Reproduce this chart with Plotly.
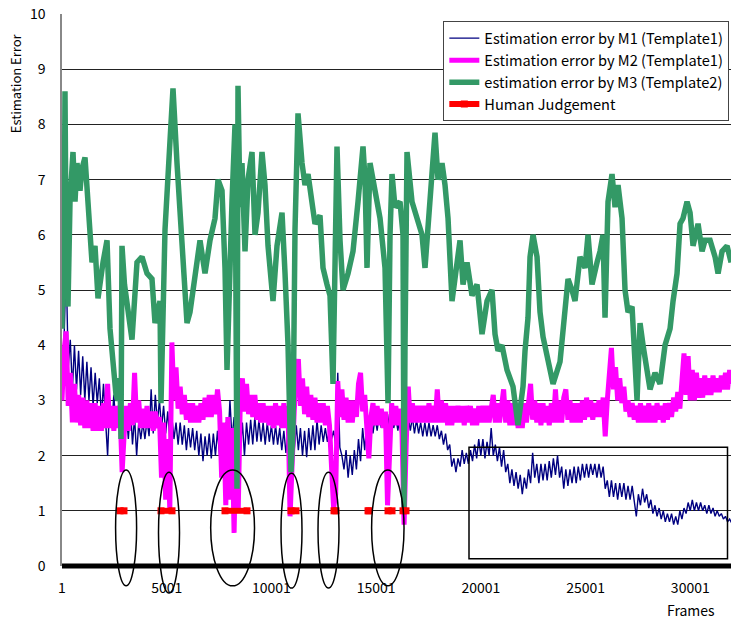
import plotly.graph_objects as go

# ---------------- data ----------------
FRAME_STEP = 99  # sampling step of the frame index for M1/M2 series

M1_VALUES = [
    3.2, 4.1, 5.5, 3.6, 4.1, 3.2, 4.0, 3.2, 3.9, 3.1, 3.8, 3.0, 3.7, 3.0, 3.6, 2.9, 3.5, 2.95, 3.4, 2.7,
    3.3, 2.6, 2.0, 3.0, 2.5, 3.1, 2.5, 2.9, 2.3, 2.7, 2.2, 2.8, 2.3, 2.9, 2.2, 2.7, 2.0, 2.6, 2.3, 2.6,
    2.3, 2.65, 2.35, 3.2, 2.4, 3.1, 2.6, 3.0, 2.5, 2.9, 2.4, 2.8, 2.3, 2.7, 2.3, 2.6, 2.2, 2.6, 2.2, 2.55,
    2.1, 2.5, 2.15, 2.5, 2.1, 2.45, 2.0, 2.4, 1.9, 2.35, 2.0, 2.4, 1.95, 2.4, 2.0, 2.45, 2.0, 2.5, 2.1, 2.6,
    2.2, 3.0, 2.3, 2.7, 2.2, 2.6, 2.1, 2.6, 2.0, 2.6, 2.2, 2.65, 2.2, 2.7, 2.25, 2.65, 2.25, 2.6, 2.2, 2.6,
    2.25, 2.55, 2.2, 2.55, 2.2, 2.5, 2.1, 2.45, 2.05, 2.4, 2.1, 2.4, 2.1, 2.55, 2.1, 2.5, 2.0, 2.45, 1.97, 2.5,
    2.1, 2.55, 2.1, 2.65, 2.2, 2.55, 2.25, 2.5, 2.25, 2.5, 2.3, 2.45, 2.2, 3.5, 2.15, 2.0, 1.75, 2.1, 1.6, 2.0,
    1.65, 2.1, 1.75, 2.3, 1.9, 2.5, 2.1, 2.6, 2.35, 2.7, 2.4, 2.7, 2.45, 2.75, 2.5, 2.75, 2.5, 2.75, 2.5, 2.75,
    2.5, 2.7, 2.45, 2.75, 2.5, 2.7, 2.45, 2.7, 2.45, 2.7, 2.4, 2.65, 2.4, 2.6, 2.35, 2.6, 2.35, 2.6, 2.35, 2.55,
    2.35, 2.55, 2.3, 2.45, 2.2, 2.4, 2.1, 2.2, 1.8, 1.95, 1.7, 1.95, 1.8, 2.1, 1.85, 2.05, 1.85, 2.1, 1.9, 2.2,
    1.95, 2.3, 2.0, 2.3, 1.95, 2.25, 2.0, 2.5, 2.0, 2.2, 1.9, 2.15, 1.8, 2.1, 1.7, 1.85, 1.5, 1.75, 1.45, 1.7,
    1.4, 1.65, 1.3, 1.6, 1.4, 1.75, 1.5, 2.05, 1.6, 1.85, 1.5, 1.85, 1.55, 1.85, 1.55, 1.9, 1.6, 1.95, 1.65, 2.0,
    1.6, 1.8, 1.4, 1.75, 1.45, 1.75, 1.5, 1.8, 1.5, 1.8, 1.55, 1.85, 1.6, 1.85, 1.6, 1.85, 1.65, 1.85, 1.6, 1.85,
    1.6, 1.8, 1.4, 1.55, 1.25, 1.55, 1.25, 1.5, 1.2, 1.5, 1.25, 1.5, 1.2, 1.45, 1.2, 1.45, 1.15, 0.9, 1.3, 1.1,
    1.4, 1.15, 1.3, 1.05, 1.2, 0.95, 1.1, 0.9, 1.05, 0.85, 1.0, 0.8, 0.95, 0.8, 0.95, 0.75, 0.9, 0.75, 1.0, 0.85,
    1.05, 0.95, 1.15, 1.0, 1.2, 1.0, 1.15, 1.0, 1.15, 1.0, 1.1, 0.95, 1.1, 0.95, 1.05, 0.9, 1.0, 0.9, 0.95, 0.85,
    0.9, 0.8, 0.85, 0.78,
]

M2_VALUES = [
    3.0, 3.9, 4.25, 2.9, 3.5, 2.6, 3.3, 2.6, 3.1, 2.55, 3.05, 2.5, 3.0, 2.5, 2.95, 2.45, 2.95, 2.45, 2.9, 2.45,
    2.95, 2.5, 3.3, 2.5, 2.9, 2.45, 2.9, 2.5, 2.8, 1.7, 2.4, 2.9, 2.45, 2.95, 2.55, 3.5, 2.6, 3.0, 2.5, 2.85,
    2.5, 2.9, 2.5, 2.8, 2.45, 2.8, 2.5, 2.7, 1.6, 2.6, 1.2, 2.3, 1.0, 4.05, 3.0, 3.6, 2.85, 3.25, 2.75, 3.1,
    2.65, 2.95, 2.6, 2.95, 2.6, 2.9, 2.6, 2.95, 2.65, 3.05, 2.7, 3.1, 2.7, 3.1, 2.75, 3.2, 2.8, 1.6, 2.6, 1.1,
    2.7, 1.2, 2.5, 0.6, 2.4, 1.0, 3.0, 3.4, 2.8, 3.3, 2.75, 3.1, 2.7, 3.1, 2.65, 2.95, 2.6, 2.95, 2.6, 2.9,
    2.55, 2.9, 2.5, 2.95, 2.55, 2.9, 2.5, 2.95, 2.5, 2.9, 0.9, 2.0, 2.8, 3.5, 3.75, 2.9, 3.4, 2.75, 3.25, 2.7,
    3.1, 2.65, 3.05, 2.6, 2.95, 2.6, 2.95, 2.55, 2.9, 2.55, 1.8, 1.05, 1.3, 3.35, 2.7, 3.2, 2.65, 3.05, 2.6, 3.0,
    2.6, 3.0, 2.7, 3.3, 3.5, 2.8, 3.1, 2.6, 1.95, 2.7, 2.95, 2.55, 2.9, 2.55, 2.85, 2.5, 2.8, 1.1, 2.4, 2.95,
    2.55, 2.9, 2.55, 2.85, 2.4, 0.75, 2.2, 3.25, 2.6, 2.95, 2.6, 2.9, 2.6, 2.9, 2.6, 2.9, 2.6, 2.95, 2.6, 2.9,
    2.6, 3.2, 2.6, 3.0, 2.6, 2.95, 2.55, 2.9, 2.55, 2.9, 2.6, 2.9, 2.6, 2.9, 2.55, 2.9, 2.6, 2.9, 2.55, 2.85,
    2.55, 2.9, 2.6, 2.9, 2.6, 2.9, 2.6, 2.95, 3.1, 2.6, 2.95, 2.6, 3.0, 3.2, 2.6, 3.0, 2.55, 2.95, 2.55, 2.9,
    2.5, 2.85, 2.5, 2.95, 2.6, 3.0, 3.3, 2.65, 3.0, 2.6, 2.95, 2.55, 2.95, 2.6, 2.9, 2.55, 2.95, 2.6, 3.2, 2.6,
    3.0, 2.6, 3.05, 3.2, 2.65, 3.0, 2.6, 2.95, 2.6, 2.95, 2.6, 3.0, 2.65, 3.05, 2.7, 3.0, 2.65, 2.95, 2.7, 3.0,
    2.7, 3.05, 2.35, 3.0, 3.5, 3.95, 3.2, 3.6, 3.0, 3.4, 2.95, 3.25, 2.8, 3.0, 2.7, 2.95, 2.65, 2.9, 2.6, 2.95,
    2.6, 2.9, 2.6, 2.95, 2.6, 2.9, 2.6, 2.95, 2.65, 2.9, 2.6, 2.95, 2.65, 2.95, 2.7, 3.05, 2.8, 3.15, 2.85, 3.4,
    3.85, 3.1, 3.8, 3.0, 3.55, 3.0, 3.5, 3.05, 3.4, 3.05, 3.45, 3.1, 3.4, 3.1, 3.45, 3.15, 3.4, 3.15, 3.45, 3.2,
    3.5, 3.2, 3.55, 3.3,
]

M3_FRAMES = [
    1, 49, 97, 144, 192, 287, 383, 526, 622, 717, 860, 956, 1099, 1243, 1434, 1577, 1720, 1959, 2150, 2293,
    2436, 2580, 2675, 2771, 2818, 2866, 2985, 3105, 3343, 3582, 3821, 4060, 4298, 4442, 4680, 4728, 4824, 4920, 5158, 5301,
    5492, 5635, 5779, 5970, 6113, 6352, 6591, 6829, 7068, 7307, 7450, 7641, 7784, 7880, 7975, 8118, 8262, 8357, 8405, 8500,
    8596, 8739, 8883, 9074, 9217, 9360, 9551, 9694, 9838, 10076, 10267, 10506, 10650, 10793, 10936, 11032, 11127, 11270, 11461, 11604,
    11748, 11939, 12082, 12320, 12464, 12655, 12798, 12941, 13037, 13132, 13276, 13419, 13658, 13896, 14135, 14374, 14470, 14565, 14708, 14947,
    15186, 15425, 15568, 15664, 15759, 15902, 16141, 16284, 16332, 16379, 16475, 16714, 16952, 17191, 17334, 17478, 17669, 17812, 17955, 18146,
    18290, 18433, 18624, 18767, 19006, 19149, 19340, 19579, 19818, 20057, 20296, 20534, 20677, 20820, 21011, 21250, 21537, 21775, 22014, 22110,
    22253, 22349, 22492, 22683, 22826, 22970, 23161, 23447, 23781, 24020, 24163, 24354, 24497, 24736, 24975, 25118, 25309, 25548, 25691, 25834,
    25930, 26073, 26264, 26408, 26551, 26742, 26885, 27029, 27220, 27459, 27602, 27745, 27936, 28079, 28318, 28557, 28796, 29035, 29178, 29369,
    29512, 29655, 29846, 29990, 30133, 30372, 30563, 30706, 30945, 31184, 31327, 31518, 31757, 31948,
]
M3_VALUES = [
    4.3, 6.5, 5.0, 8.6, 6.0, 4.7, 6.6, 7.5, 6.6, 7.3, 6.8, 7.2, 7.4, 6.4, 5.5, 5.8, 4.85, 5.5, 5.9, 4.3,
    3.8, 3.1, 3.0, 3.4, 2.3, 5.8, 5.1, 4.8, 4.1, 5.5, 5.6, 5.3, 5.2, 4.4, 4.8, 2.95, 4.6, 6.1, 7.7, 8.65,
    7.3, 6.3, 5.4, 4.4, 4.6, 5.3, 5.9, 5.3, 5.9, 6.3, 7.0, 6.8, 5.4, 3.55, 5.0, 6.6, 8.0, 1.4, 8.7, 6.5,
    7.3, 5.7, 7.0, 7.5, 6.0, 6.4, 7.5, 6.9, 5.8, 4.8, 5.8, 6.4, 5.3, 4.0, 1.7, 2.5, 6.1, 8.2, 7.3, 6.9,
    7.1, 6.5, 6.2, 6.35, 5.4, 5.1, 4.9, 3.3, 5.5, 7.6, 5.9, 5.0, 5.3, 5.7, 6.6, 7.6, 7.0, 5.4, 7.3, 6.8,
    6.3, 5.4, 2.95, 6.0, 7.1, 6.5, 6.6, 6.0, 1.0, 4.0, 7.5, 6.6, 6.3, 6.0, 5.4, 6.1, 7.1, 7.85, 7.0, 7.3,
    6.9, 6.3, 4.8, 5.2, 5.9, 5.1, 5.5, 4.9, 5.1, 4.2, 4.8, 5.0, 4.2, 3.9, 4.0, 3.55, 3.25, 2.55, 3.25, 3.9,
    4.5, 5.6, 6.0, 5.6, 4.6, 4.15, 3.8, 3.3, 3.7, 4.6, 5.2, 5.0, 4.8, 5.6, 5.4, 6.0, 5.1, 5.5, 5.7, 6.0,
    4.5, 6.6, 7.1, 6.5, 6.9, 6.3, 5.0, 4.6, 4.7, 3.0, 4.4, 4.0, 3.6, 3.2, 3.5, 3.3, 4.0, 4.3, 4.8, 5.3,
    6.2, 6.3, 6.6, 6.4, 5.8, 6.2, 5.7, 5.9, 5.9, 5.6, 5.3, 5.7, 5.8, 5.5,
]

# Human judgement: frame intervals judged as erroneous (plotted at level 1)
HUMAN_STARTS = [2770, 4728, 7784, 10936, 12989, 14613, 15568, 16284]
HUMAN_ENDS = [2961, 5254, 8835, 11175, 13085, 14661, 15759, 16427]
HUMAN_LEVEL = 1

# Ellipse highlights (frame0, frame1, err0, err1)
ELLIPSES = [
    (2560, 3563, -0.36, 1.74),
    (4609, 5612, -0.49, 1.70),
    (7101, 9193, -0.36, 1.74),
    (10458, 11461, -0.40, 1.68),
    (12225, 13228, -0.40, 1.70),
    (14785, 16332, -0.36, 1.74),
]
BOX = (19435, 31778, 0.13, 2.15)

X_TICKS = [1, 5001, 10001, 15001, 20001, 25001, 30001]
Y_TICKS = list(range(0, 11))
X_MAX = 31945
Y_MAX = 10

NAMES = [
    "Estimation error by M1 (Template1)",
    "Estimation error by M2 (Template1)",
    "estimation error by M3 (Template2)",
    "Human Judgement",
]

# ---------------- figure ----------------
m1_frames = [1 + FRAME_STEP * i for i in range(len(M1_VALUES))]
m2_frames = [1 + FRAME_STEP * i for i in range(len(M2_VALUES))]

hx, hy = [], []
for s, e in zip(HUMAN_STARTS, HUMAN_ENDS):
    hx += [s, e, None]
    hy += [HUMAN_LEVEL, HUMAN_LEVEL, None]

FONT = "Noto Sans CJK JP, Liberation Sans, sans-serif"

fig = go.Figure()
fig.add_trace(go.Scatter(x=m1_frames, y=M1_VALUES, mode="lines", name=NAMES[0],
                         line=dict(color="#000080", width=1.4)))
fig.add_trace(go.Scatter(x=m2_frames, y=M2_VALUES, mode="lines", name=NAMES[1],
                         line=dict(color="#FF00FF", width=5)))
fig.add_trace(go.Scatter(x=M3_FRAMES, y=M3_VALUES, mode="lines", name=NAMES[2],
                         line=dict(color="#339966", width=5.5)))
fig.add_trace(go.Scatter(x=hx, y=hy, mode="lines+markers", name=NAMES[3],
                         line=dict(color="#FF0000", width=6),
                         marker=dict(symbol="square", size=7, color="#FF0000")))

shapes = []
for x0, x1, y0, y1 in ELLIPSES:
    shapes.append(dict(type="circle", xref="x", yref="paper",
                       x0=x0, x1=x1, y0=y0 / Y_MAX, y1=y1 / Y_MAX,
                       line=dict(color="black", width=1.5), layer="above"))
shapes.append(dict(type="rect", xref="x", yref="y", x0=BOX[0], x1=BOX[1], y0=BOX[2], y1=BOX[3],
                   line=dict(color="black", width=1.5), layer="above"))
shapes.append(dict(type="line", xref="paper", yref="paper", x0=0, x1=1, y0=0, y1=0,
                   line=dict(color="black", width=5), layer="above"))

fig.update_layout(
    width=731, height=620,
    margin=dict(l=62, r=0, t=14, b=54, autoexpand=False),
    paper_bgcolor="white", plot_bgcolor="white",
    font=dict(family=FONT, size=14, color="black"),
    showlegend=True,
    legend=dict(x=0.57, y=0.987, xanchor="left", yanchor="top",
                bgcolor="white", bordercolor="#444", borderwidth=1,
                font=dict(size=14.6), itemwidth=30, tracegroupgap=0),
    shapes=shapes,
    annotations=[
        dict(text="Estimation Error", xref="paper", yref="paper", x=-0.07, y=0.875,
             textangle=-90, showarrow=False, font=dict(size=13), xanchor="center", yanchor="middle"),
        dict(text="Frames", xref="paper", yref="paper", x=0.94, y=-0.08,
             showarrow=False, font=dict(size=14), xanchor="center", yanchor="middle"),
    ],
)
fig.update_xaxes(range=[1, X_MAX], tickvals=X_TICKS, ticktext=[str(v) for v in X_TICKS],
                 showgrid=False, zeroline=False, showline=False, ticks="",
                 ticklabelstandoff=12, tickfont=dict(size=14), automargin=False)
fig.update_yaxes(range=[0, Y_MAX], tickvals=Y_TICKS, ticktext=[str(v) for v in Y_TICKS],
                 showgrid=True, gridcolor="#222", gridwidth=1,
                 zeroline=False, showline=True, linecolor="#888", linewidth=1.5, ticks="",
                 ticklabelstandoff=12, ticklabeloverflow="allow", tickfont=dict(size=14),
                 automargin=False)

# remove the browser's default 8px body margin so the figure fills the window exactly
fig.write_html("out.html", config={"displayModeBar": False},
               post_script="document.body.style.margin='0';")
